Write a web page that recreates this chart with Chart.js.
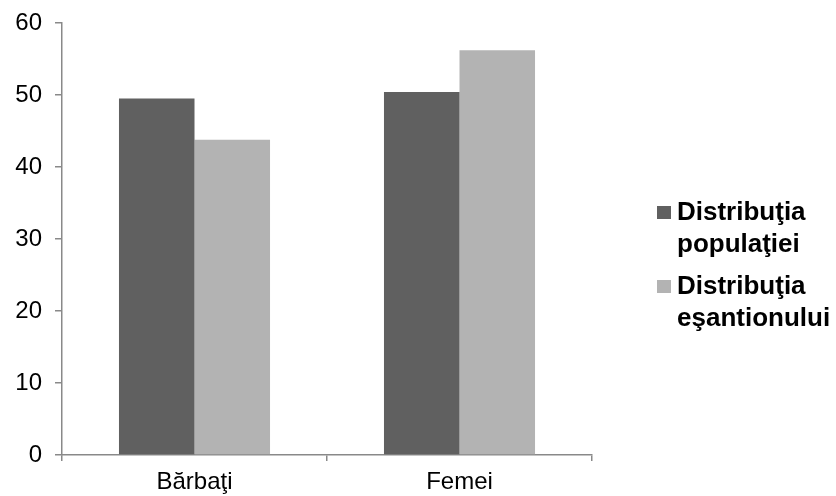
<!DOCTYPE html>
<html>
<head>
<meta charset="utf-8">
<script src="https://cdn.jsdelivr.net/npm/chart.js@4/dist/chart.umd.min.js"></script>
<style>
  html, body { margin: 0; padding: 0; background: #fff; }
  #wrap { width: 836px; height: 496px; }
</style>
</head>
<body>
<div id="wrap"><canvas id="genderChart"></canvas></div>
<script>
const categories = ['Bărbaţi', 'Femei']
const seriesNames = ['Distribuţia populaţiei', 'Distribuţia eşantionului']
const populatie = [49.5, 50.4]
const esantion = [43.8, 56.2]
const yTicks = [0, 10, 20, 30, 40, 50, 60]

const colors = ['#606060', '#b3b3b3']
const axisColor = '#898989'

// legend drawn on the right, two lines per item like the original
const sideLegend = {
  id: 'sideLegend',
  afterDraw(chart) {
    const ctx = chart.ctx
    ctx.save()
    ctx.font = 'bold 26px "Liberation Sans", Arial, sans-serif'
    ctx.textBaseline = 'alphabetic'
    const tops = [206, 280]
    chart.data.datasets.forEach((ds, i) => {
      const y0 = tops[i]
      ctx.fillStyle = ds.backgroundColor
      ctx.fillRect(657, y0, 14, 13)
      ctx.fillStyle = '#000'
      const words = ds.label.split(' ')
      ctx.fillText(words[0], 677, y0 + 14)
      ctx.fillText(words.slice(1).join(' '), 677, y0 + 46)
    })
    ctx.restore()
  }
}

const ctx = document.getElementById('genderChart').getContext('2d')
const chart = new Chart(ctx, {
  type: 'bar',
  data: {
    labels: categories,
    datasets: [
      { label: seriesNames[0], data: populatie, backgroundColor: colors[0] },
      { label: seriesNames[1], data: esantion, backgroundColor: colors[1] }
    ]
  },
  options: {
    responsive: true,
    maintainAspectRatio: false,
    animation: false,
    layout: { padding: { top: 23, right: 244, left: 0, bottom: 0 } },
    datasets: {
      bar: { categoryPercentage: 0.57, barPercentage: 1.0 }
    },
    plugins: {
      legend: { display: false },
      tooltip: { enabled: false }
    },
    scales: {
      x: {
        grid: {
          offset: true,
          drawOnChartArea: false,
          tickLength: 6,
          color: axisColor,
          lineWidth: 1.5
        },
        border: { color: axisColor, width: 1.5 },
        ticks: {
          color: '#000',
          padding: 7,
          font: { family: '"Liberation Sans", Arial, sans-serif', size: 24 }
        },
        afterFit(scale) { scale.height = 41 }
      },
      y: {
        min: 0,
        max: 60,
        afterBuildTicks(scale) { scale.ticks = yTicks.map(v => ({ value: v })) },
        grid: {
          drawOnChartArea: false,
          tickLength: 7,
          color: axisColor,
          lineWidth: 1.5
        },
        border: { color: axisColor, width: 1.5 },
        ticks: {
          color: '#000',
          padding: 13,
          font: { family: '"Liberation Sans", Arial, sans-serif', size: 24 }
        },
        afterFit(scale) {
          scale.width = 62
          scale.paddingTop = 0
          scale.paddingBottom = 0
        }
      }
    }
  },
  plugins: [sideLegend]
})
</script>
</body>
</html>
